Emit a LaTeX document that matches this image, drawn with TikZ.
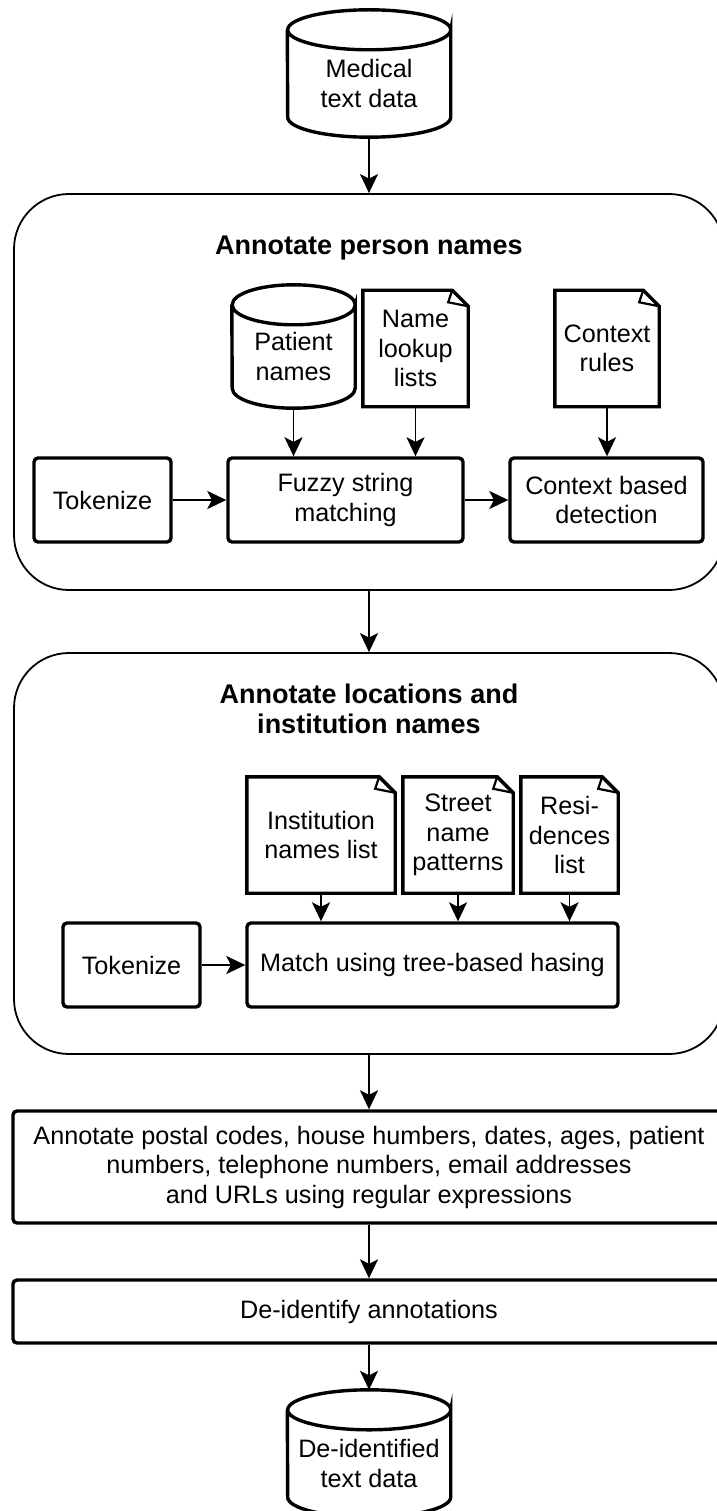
\documentclass[tikz,border=0pt]{standalone}
\usepackage{fontspec}
\setmainfont{Liberation Sans}
\usetikzlibrary{arrows.meta}

% database and document outlines drawn round named nodes
\newcommand\drawdb[2]{%
  \draw[shapeline] (#1.north east) arc[start angle=0, end angle=360, x radius=#2, y radius=20pt]
    -- ([yshift=20pt]#1.south east) arc[start angle=0, end angle=-180, x radius=#2, y radius=20pt]
    -- (#1.north west);}
\newcommand\drawdoc[1]{%
  \draw[shapeline] (#1.north west) -- ([xshift=-16pt]#1.north east) -- ([yshift=-16pt]#1.north east)
    -- (#1.south east) -- (#1.south west) -- cycle;
  \draw[shapeline, line width=2.2pt] ([xshift=-16pt]#1.north east) -- ([xshift=-20pt, yshift=-12pt]#1.north east)
    -- ([yshift=-16pt]#1.north east);}

\begin{document}
\begin{tikzpicture}[x=1pt, y=-1pt]
\tikzset{
    every node/.style={align=center, inner sep=0pt, font=\fontsize{25.2}{29.5}\selectfont},
    proc/.style={draw, line width=3.4pt, rounded corners=4pt},
    group/.style={draw, line width=1.8pt, rounded corners=55pt, minimum width=710pt},
    title/.style={font=\fontsize{27}{30}\selectfont\bfseries},
    store/.style={minimum width=163pt, minimum height=107pt},
    doc/.style={minimum height=116pt},
    shapeline/.style={line width=3.4pt, line join=miter},
    flow/.style={line width=1.8pt, -{Stealth[length=19pt, width=18pt, inset=4.5pt]}}
}
\useasboundingbox (0,0) rectangle (716,1511);

\node[store] (medical) at (369,83.5) {Medical\\text data};

% person names
\node[group, minimum height=396pt] (persons) at (369,392) {};
\node[title, anchor=base] (ptitle) at (369,255) {Annotate person names};
\node[minimum width=123pt, minimum height=103pt] (patients) at (293.5,356.5) {Patient\\names};
\node[doc, minimum width=105pt] (lookup) at (415.5,348.5) {Name\\lookup\\lists};
\node[doc, minimum width=104pt] (ctxrules) at (607,348.5) {Context\\rules};
\node[proc, minimum width=137pt, minimum height=84pt] (tokA) at (102.5,500) {Tokenize};
\node[proc, minimum width=235pt, minimum height=84pt] (fuzzy) at (345.5,500) {Fuzzy string\\matching};
\node[proc, minimum width=193pt, minimum height=84pt] (ctxdet) at (606.5,500) {Context based\\detection};

% locations and institutions
\node[group, minimum height=401pt] (places) at (369,853.5) {};
\node[title] (ltitle) at (369,709) {Annotate locations and\\institution names};
\node[doc, minimum width=148pt] (inst) at (321,835) {Institution\\names list};
\node[doc, minimum width=110pt] (street) at (458,835) {Street\\name\\patterns};
\node[doc, minimum width=97pt] (resid) at (569.5,835) {Resi-\\dences\\list};
\node[proc, minimum width=137pt, minimum height=84pt] (tokB) at (131.5,965) {Tokenize};
\node[proc, minimum width=371pt, minimum height=84pt] (match) at (432.5,965) {Match using tree-based hasing};

\node[proc, minimum width=712pt, minimum height=112pt] (regex) at (369,1167)
    {Annotate postal codes, house humbers, dates, ages, patient\\numbers, telephone numbers, email addresses\\and URLs using regular expressions};
\node[proc, minimum width=712pt, minimum height=63pt] (deid) at (369,1311.5) {De-identify annotations};
\node[store] (output) at (369,1463.5) {De-identified\\text data};

\drawdb{medical}{81.5pt}
\drawdb{patients}{61.5pt}
\drawdb{output}{81.5pt}
\drawdoc{lookup}
\drawdoc{ctxrules}
\drawdoc{inst}
\drawdoc{street}
\drawdoc{resid}

\draw[flow] (medical.south) -- (persons.north);
\draw[flow] (patients.south) -- (patients.south |- fuzzy.north);
\draw[flow] (lookup.south) -- (lookup.south |- fuzzy.north);
\draw[flow] (ctxrules.south) -- (ctxrules.south |- ctxdet.north);
\draw[flow] (tokA) -- (fuzzy);
\draw[flow] (fuzzy) -- (ctxdet);
\draw[flow] (persons.south) -- (places.north);
\draw[flow] (inst.south) -- (inst.south |- match.north);
\draw[flow] (street.south) -- (street.south |- match.north);
\draw[flow] (resid.south) -- (resid.south |- match.north);
\draw[flow] (tokB) -- (match);
\draw[flow] (places.south) -- (regex.north);
\draw[flow] (regex) -- (deid);
\draw[flow] (deid.south) -- ([yshift=20pt]output.north);
\end{tikzpicture}
\end{document}
